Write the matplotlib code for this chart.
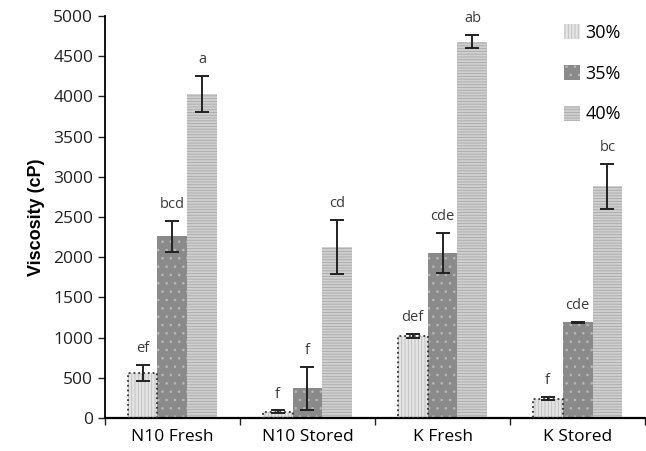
import numpy as np
import matplotlib.pyplot as plt

# viscosity of N10 and K samples at three concentrations
samples = ['N10 Fresh', 'N10 Stored', 'K Fresh', 'K Stored']
levels = ['30%', '35%', '40%']

visc_30 = [560, 80, 1020, 240]
visc_35 = [2260, 370, 2050, 1190]
visc_40 = [4030, 2130, 4680, 2880]

err_30 = [95, 15, 30, 20]
err_35 = [190, 270, 250, 10]
err_40 = [230, 335, 80, 275]

sig_30 = ['ef', 'f', 'def', 'f']
sig_35 = ['bcd', 'f', 'cde', 'cde']
sig_40 = ['a', 'cd', 'ab', 'bc']


def main():
    plt.rcParams['hatch.linewidth'] = 0.6
    plt.rcParams['font.family'] = ['Open Sans', 'DejaVu Sans']

    fig = plt.figure(figsize=(6.46, 4.51), dpi=100)
    ax = fig.add_axes([0.1625, 0.0732, 0.836, 0.8913])

    x = np.arange(len(samples))
    w = 0.222
    styles = [
        # face, hatch, hatch colour, border style
        ('#e4e4e4', '|||||', '#bdbdbd', ':'),
        ('#8a8a8a', '..', '#b8b8b8', None),
        ('#cfcfcf', '------', '#a9a9a9', None),
    ]
    vals = [visc_30, visc_35, visc_40]
    errs = [err_30, err_35, err_40]
    sigs = [sig_30, sig_35, sig_40]

    handles = []
    for i, (face, hatch, hcol, border) in enumerate(styles):
        pos = x + (i - 1) * w
        b = ax.bar(pos, vals[i], w, color=face, hatch=hatch, edgecolor=hcol,
                   linewidth=0, zorder=2)
        if border:
            ax.bar(pos, vals[i], w, fill=False, edgecolor='#333333',
                   linestyle=border, linewidth=1.3, zorder=3)
        handles.append(b)
        ax.errorbar(pos, vals[i], yerr=errs[i], fmt='none', ecolor='#222222',
                    elinewidth=1.4, capsize=5, capthick=1.4, zorder=4)
        for p, v, e, s in zip(pos, vals[i], errs[i], sigs[i]):
            ax.text(p, v + e + 110, s, ha='center', va='bottom',
                    fontsize=10.5, color='#3a3a3a')

    ax.set_xlim(-0.5, 3.5)
    ax.set_ylim(0, 5000)
    ax.set_yticks(np.arange(0, 5001, 500))
    ax.set_xticks(x)
    ax.set_xticklabels(samples, fontsize=12.5)
    ax.set_xticks(np.arange(-0.5, 3.6, 1), minor=True)
    ax.tick_params(axis='x', which='major', length=0, pad=8)
    ax.tick_params(axis='x', which='minor', length=5, width=1, color='#222222')
    ax.tick_params(axis='y', labelsize=12.5, length=5, width=1, color='#222222')
    for lab in ax.get_yticklabels():
        lab.set_color('#222222')

    ax.set_ylabel('Viscosity (cP)', fontsize=13, fontweight='bold',
                  family='Liberation Sans', labelpad=6)

    ax.spines['top'].set_visible(False)
    ax.spines['right'].set_visible(False)
    ax.spines['left'].set_linewidth(1.3)
    ax.spines['bottom'].set_linewidth(1.6)

    ax.legend(handles, levels, loc='upper right', frameon=False,
              fontsize=13, handlelength=0.9, handleheight=0.9,
              handletextpad=0.3, labelspacing=1.25,
              bbox_to_anchor=(0.985, 1.02))

    fig.savefig('out.png', dpi=100)


if __name__ == '__main__':
    main()
